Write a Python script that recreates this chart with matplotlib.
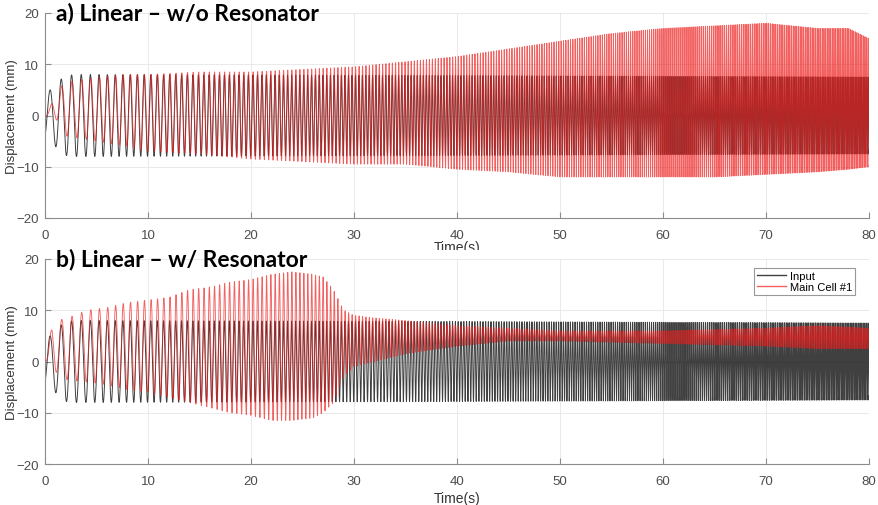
import numpy as np
import matplotlib
matplotlib.use("Agg")
import matplotlib.pyplot as plt
from matplotlib.patches import Rectangle

# chirp excitation: instantaneous frequency f(t) = F0 + K * t  (Hz)
F0 = 0.85
K = 0.07
PHASE0 = -1.1
T_END = 80.0

# input displacement amplitude (mm)
input_t = [0, 0.5, 1.0, 1.5, 2.0, 3.0, 40, 80]
input_amp = [4.5, 5.0, 6.0, 7.0, 7.8, 8.0, 7.8, 7.5]

# main cell #1 response envelope, no resonator (mm)
a_t = [0, 0.2, 1, 2, 5, 8, 10, 15, 20, 25, 30, 35, 40, 45, 50, 55, 60, 65, 70, 75, 78, 80]
a_upper = [0, 0, 4.5, 6.5, 7.5, 8, 8, 8.5, 8.5, 9, 9.5, 10.5, 11.5, 13, 14.5, 16, 17, 17.5, 18, 17, 17, 15]
a_lower = [0, 0, -0.5, -4, -5, -6, -7, -7.5, -8.5, -9, -9.5, -9.5, -10.5, -11, -12, -12, -12, -12, -11.5, -11, -10.5, -10]

# main cell #1 response envelope, with resonator (mm)
b_t = [0, 0.2, 0.7, 2, 3, 4, 6, 8, 10, 12, 14, 16, 18, 20, 22, 24, 26, 27, 28, 29, 30, 32, 35, 40, 45, 50, 60, 70, 75, 80]
b_upper = [1, 1, 7.5, 8.5, 9, 10, 10.5, 11.5, 12, 12.5, 14, 14.5, 15.5, 16, 17, 17.5, 17, 16.5, 14, 10, 9, 8.5, 8, 7, 6.5, 6, 6, 6.5, 7, 6.5]
b_lower = [0, 0, -1.5, -3.5, -3.8, -4, -4.5, -5.5, -6, -7, -8, -9, -10, -10.5, -11.5, -11.5, -11, -10, -8, -3, -1, 0, 1.5, 3, 4, 4, 3.5, 3, 2.5, 2.5]

titles = ["a) Linear \u2013 w/o Resonator", "b) Linear \u2013 w/ Resonator"]
legend_labels = ["Input", "Main Cell #1"]

t = np.linspace(0, T_END, 48000)
phase = 2 * np.pi * (F0 * t + 0.5 * K * t ** 2) + PHASE0
u_in = np.interp(t, input_t, input_amp) * np.sin(phase)


def response(knots, upper, lower, lag=0.3):
    up = np.interp(t, knots, upper)
    lo = np.interp(t, knots, lower)
    return (up + lo) / 2 + (up - lo) / 2 * np.sin(phase - lag)


responses = [response(a_t, a_upper, a_lower), response(b_t, b_upper, b_lower)]

plt.rcParams['font.family'] = ['Liberation Sans', 'DejaVu Sans']
fig = plt.figure(figsize=(8.79, 5.06), dpi=100)
W, H = 879, 506
boxes = [(45, 14, 869, 219), (45, 260, 869, 465)]
xlabel_pads = [-1, 3]
axes = []
for i, (x0, y0, x1, y1) in enumerate(boxes):
    ax = fig.add_axes([x0 / W, 1 - y1 / H, (x1 - x0) / W, (y1 - y0) / H])
    ax.set_zorder(i)
    ax.plot(t, u_in, color='black', lw=0.7, alpha=0.75, label=legend_labels[0])
    ax.plot(t, responses[i], color='#ee1c1c', lw=0.65, alpha=0.7, label=legend_labels[1])
    ax.set_xlim(0, 80)
    ax.set_ylim(-20, 20)
    ax.set_xticks(range(0, 81, 10))
    ax.set_yticks(range(-20, 21, 10))
    ax.grid(True, color='#e6e6e6', lw=0.6)
    ax.set_axisbelow(True)
    for side in ['top', 'right']:
        ax.spines[side].set_visible(False)
    for side in ['left', 'bottom']:
        ax.spines[side].set_color('#8c8c8c')
        ax.spines[side].set_linewidth(0.8)
    ax.tick_params(direction='in', length=4, width=0.8, colors='#8c8c8c',
                   labelcolor='#4d4d4d', labelsize=9.5)
    ax.tick_params(axis='x', pad=8)
    ax.tick_params(axis='y', pad=4.5)
    ax.set_xlabel('Time(s)', fontsize=10, color='#333333', labelpad=xlabel_pads[i])
    ax.set_ylabel('Displacement (mm)', fontsize=9.5, color='#333333')
    ax.yaxis.set_label_coords(-27 / (x1 - x0), 0.5)
    ax.text(0.013, 1.0, titles[i], transform=ax.transAxes, fontsize=16.5,
            fontweight='bold', family='Lato', va='center', ha='left',
            color='black', zorder=5)
    axes.append(ax)

leg = axes[1].legend(loc='upper right', bbox_to_anchor=(0.99, 0.985),
                     fontsize=8, frameon=True, fancybox=False, handlelength=2.6,
                     borderpad=0.3, labelspacing=0.1, handletextpad=0.3)
leg.get_frame().set_edgecolor('#7f7f7f')
leg.get_frame().set_linewidth(0.8)
for line in leg.get_lines():
    line.set_linewidth(1.0)

# white strip separating the two panels (hides the lower half of the upper x label)
fig.add_artist(Rectangle((0, 1 - 258 / H), 1, 7 / H, transform=fig.transFigure,
                         facecolor='white', edgecolor='none', zorder=0.5))

fig.savefig('out.png', dpi=100)
